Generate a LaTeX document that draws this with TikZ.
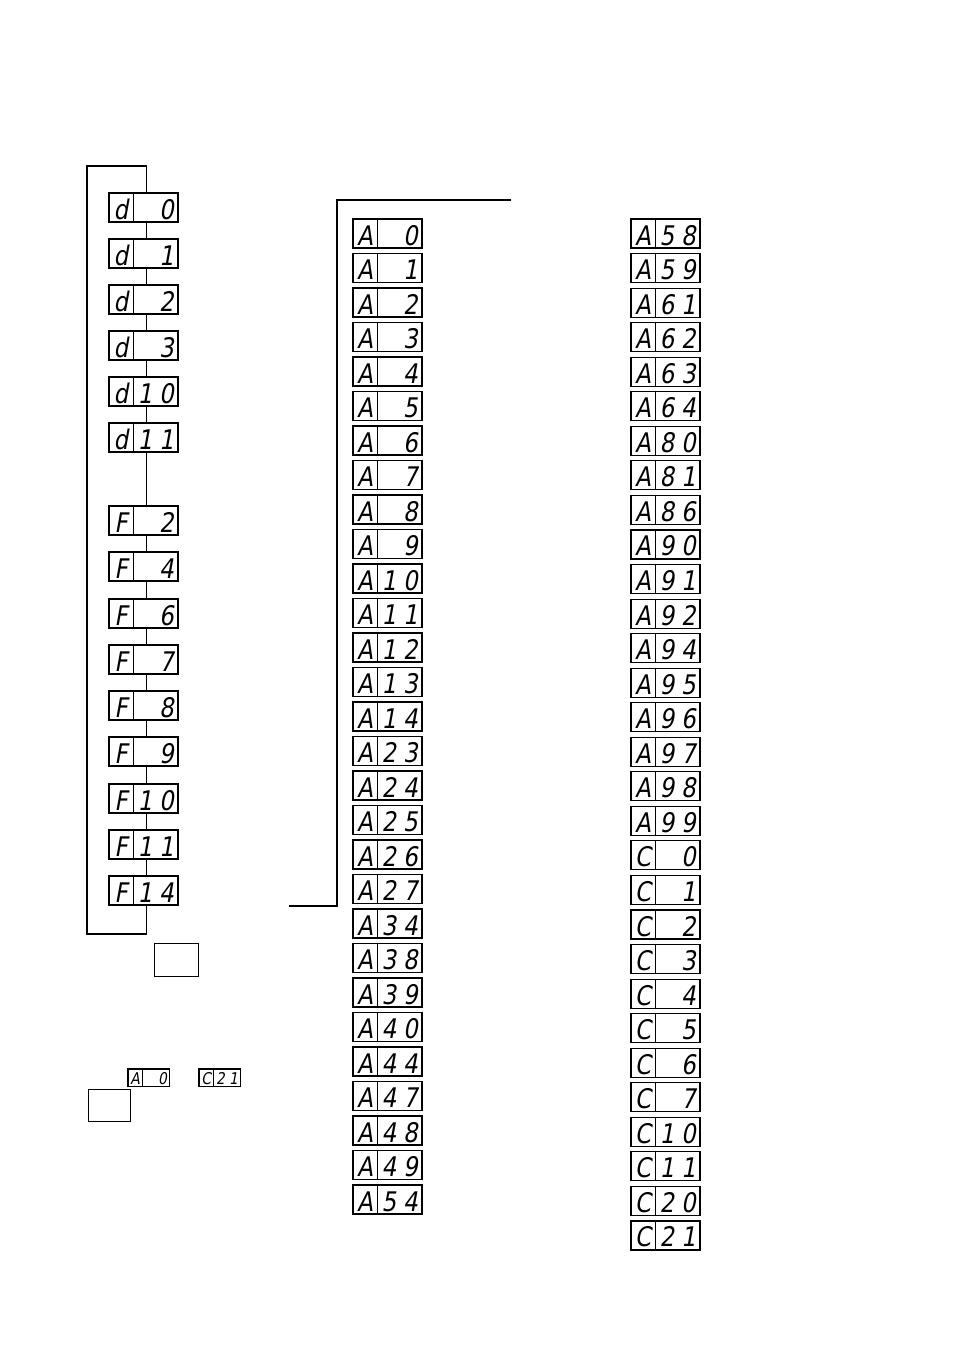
\documentclass[tikz,border=0pt]{standalone}
\usepackage{fontspec}
\newfontfamily\segfont{DejaVu Sans}[FakeSlant=0.18,FakeStretch=0.85]
\tikzset{
  ln/.style={line width=1.1pt},
  segfr/.style={draw,line width=1.1pt,inner sep=0pt,outer sep=0pt},
  seg/.style={inner sep=0pt,anchor=base},
  plainbox/.style={draw,line width=1.1pt,inner sep=0pt,anchor=north west}
}
% \segbox[scale]{name}{x}{y}{letter}{tens}{ones}
\newcommand\segbox[7][1]{%
  \pgfmathsetmacro\segfs{27*#1}%
  \node[segfr,minimum width=69*#1,minimum height=29*#1,anchor=north west] (#2) at (#3,#4) {};
  \draw[ln] ({#3+24.5*#1},#4) -- ({#3+24.5*#1},{#4+29*#1});
  \node[seg,font=\segfont\fontsize{\segfs}{\segfs}\selectfont] (#2-l) at ({#3+12*#1},{#4+26*#1}) {#5};
  \node[seg,font=\segfont\fontsize{\segfs}{\segfs}\selectfont] (#2-t) at ({#3+(24.5+11.5)*#1},{#4+26*#1}) {#6};
  \node[seg,font=\segfont\fontsize{\segfs}{\segfs}\selectfont] (#2-o) at ({#3+(24.5+33)*#1},{#4+26*#1}) {#7};
}
\begin{document}
\begin{tikzpicture}[x=1pt,y=-1pt]
\useasboundingbox (0,0) rectangle (954,1351);
\fill[white] (0,0) rectangle (954,1351);
% left column
\segbox{d0}{109}{193}{d}{}{0}
\segbox{d1}{109}{239}{d}{}{1}
\segbox{d2}{109}{285}{d}{}{2}
\segbox{d3}{109}{331}{d}{}{3}
\segbox{d10}{109}{377}{d}{1}{0}
\segbox{d11}{109}{423}{d}{1}{1}
\segbox{F2}{109}{506}{F}{}{2}
\segbox{F4}{109}{552}{F}{}{4}
\segbox{F6}{109}{599}{F}{}{6}
\segbox{F7}{109}{645}{F}{}{7}
\segbox{F8}{109}{691}{F}{}{8}
\segbox{F9}{109}{737}{F}{}{9}
\segbox{F10}{109}{784}{F}{1}{0}
\segbox{F11}{109}{830}{F}{1}{1}
\segbox{F14}{109}{876}{F}{1}{4}
\foreach \a/\b in {d0/d1,d1/d2,d2/d3,d3/d10,d10/d11,d11/F2,F2/F4,F4/F6,F6/F7,F7/F8,F8/F9,F9/F10,F10/F11,F11/F14}
  \draw[ln] ([xshift=3.2pt]\a.south) -- ([xshift=3.2pt]\b.north);
\coordinate (lt) at (87,166);
\coordinate (lb) at (87,934);
\draw[ln] ([xshift=3.2pt]d0.north) |- (lt) -- (lb) -| ([xshift=3.2pt]F14.south);
% middle column
\foreach \l/\t/\o [count=\i from 0] in {A//0,A//1,A//2,A//3,A//4,A//5,A//6,A//7,A//8,A//9,A/1/0,A/1/1,A/1/2,A/1/3,A/1/4,A/2/3,A/2/4,A/2/5,A/2/6,A/2/7,A/3/4,A/3/8,A/3/9,A/4/0,A/4/4,A/4/7,A/4/8,A/4/9,A/5/4}
  {\segbox{m\i}{353}{219+34.5*\i}{\l}{\t}{\o}}
% right column
\foreach \l/\t/\o [count=\i from 0] in {A/5/8,A/5/9,A/6/1,A/6/2,A/6/3,A/6/4,A/8/0,A/8/1,A/8/6,A/9/0,A/9/1,A/9/2,A/9/4,A/9/5,A/9/6,A/9/7,A/9/8,A/9/9,C//0,C//1,C//2,C//3,C//4,C//5,C//6,C//7,C/1/0,C/1/1,C/2/0,C/2/1}
  {\segbox{r\i}{631}{219+34.55*\i}{\l}{\t}{\o}}
% connector to middle column
\coordinate (ra) at (289,906);
\coordinate (rb) at (511,200);
\draw[ln] (ra) -- ++(48,0) |- (rb);
% empty boxes
\node[plainbox,minimum width=44,minimum height=33] (k1) at (154,943) {};
\node[plainbox,minimum width=42,minimum height=32] (k2) at (88,1089) {};
% small displays
\segbox[0.6]{sa}{128}{1069}{A}{}{0}
\segbox[0.6]{sc}{199}{1069}{C}{2}{1}
\end{tikzpicture}
\end{document}
